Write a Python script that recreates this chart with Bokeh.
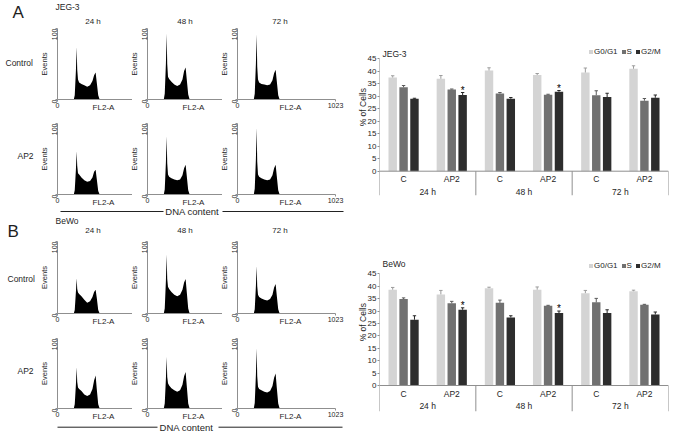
import math
from bokeh.plotting import figure
from bokeh.models import (Range1d, FactorRange, FixedTicker, Legend, LegendItem,
                          ColumnDataSource, Span, GridBox)
from bokeh.transform import dodge
from bokeh.layouts import row, column
from bokeh.core.properties import value
from bokeh.embed import file_html
from bokeh.resources import INLINE

FONT = "Liberation Sans"

# ---------------- data ----------------
TIMES = ["24 h", "48 h", "72 h"]
TREATMENTS = ["C", "AP2"]
ROW_NAMES = ["Control", "AP2"]
PHASES = ["G0/G1", "S", "G2/M"]
CELL_LINES = ["JEG-3", "BeWo"]
PANELS = ["A", "B"]

# flow cytometry histograms (FL2-A channel vs events)
CHANNEL = [170, 180, 192, 200, 206, 214, 226, 250, 280, 310, 340, 365, 382, 398, 410, 425, 440]
JEG3_CONTROL_24 = [0, 6, 40, 74, 42, 28, 24, 22, 20, 18, 20, 26, 34, 38, 24, 6, 0]
JEG3_CONTROL_48 = [0, 8, 50, 93, 50, 32, 29, 25, 21, 19, 21, 28, 40, 45, 28, 7, 0]
JEG3_CONTROL_72 = [0, 8, 50, 92, 46, 28, 24, 22, 21, 20, 21, 27, 37, 42, 26, 6, 0]
JEG3_AP2_24 = [0, 6, 35, 61, 40, 30, 28, 24, 20, 18, 19, 24, 32, 35, 22, 5, 0]
JEG3_AP2_48 = [0, 7, 45, 82, 44, 28, 25, 23, 21, 20, 21, 27, 37, 42, 26, 6, 0]
JEG3_AP2_72 = [0, 8, 50, 94, 46, 28, 25, 23, 21, 20, 21, 27, 37, 42, 26, 6, 0]
BEWO_CONTROL_24 = [0, 5, 30, 49, 34, 29, 27, 24, 19, 15, 17, 23, 30, 33, 22, 5, 0]
BEWO_CONTROL_48 = [0, 7, 45, 82, 48, 37, 34, 30, 26, 24, 26, 33, 43, 48, 30, 7, 0]
BEWO_CONTROL_72 = [0, 6, 38, 66, 38, 26, 23, 21, 19, 18, 20, 26, 36, 41, 25, 6, 0]
BEWO_AP2_24 = [0, 6, 34, 59, 38, 30, 28, 25, 20, 18, 20, 28, 40, 47, 28, 6, 0]
BEWO_AP2_48 = [0, 7, 42, 74, 45, 36, 33, 29, 26, 24, 26, 34, 46, 52, 32, 7, 0]
BEWO_AP2_72 = [0, 8, 48, 86, 46, 31, 28, 26, 24, 23, 25, 32, 44, 50, 30, 7, 0]

# cell-cycle percentages (order: 24h C, 24h AP2, 48h C, 48h AP2, 72h C, 72h AP2)
JEG3_G0G1 = [37.5, 37.0, 40.3, 38.5, 39.5, 41.0]
JEG3_G0G1_ERR = [0.7, 1.3, 1.1, 0.6, 1.8, 1.2]
JEG3_S = [33.6, 32.7, 31.1, 30.6, 30.4, 28.2]
JEG3_S_ERR = [0.7, 0.2, 0.4, 0.2, 1.8, 0.9]
JEG3_G2M = [29.0, 30.5, 29.0, 31.8, 29.7, 29.4]
JEG3_G2M_ERR = [0.2, 1.0, 0.5, 0.5, 1.5, 1.1]
BEWO_G0G1 = [38.6, 36.7, 39.2, 38.6, 37.2, 38.0]
BEWO_G0G1_ERR = [0.9, 1.6, 0.4, 1.1, 1.1, 0.4]
BEWO_S = [34.8, 33.1, 33.3, 32.1, 33.5, 32.5]
BEWO_S_ERR = [0.5, 0.8, 1.1, 0.2, 1.6, 0.2]
BEWO_G2M = [26.5, 30.5, 27.4, 29.2, 29.2, 28.6]
BEWO_G2M_ERR = [1.6, 0.8, 0.7, 0.8, 1.3, 1.0]
SIGNIFICANT_G2M = [("24 h", "AP2"), ("48 h", "AP2")]
Y_TICKS = [0, 5, 10, 15, 20, 25, 30, 35, 40, 45]

BAR_FACTORS = [(t, c) for t in TIMES for c in TREATMENTS]
BAR_COLORS = ["#d4d4d4", "#717171", "#2d2d2d"]
ERR_COLORS = ["#9c9c9c", "#5a5a5a", "#262626"]
AXIS_GRAY = "#8f8f8f"
TEXT = "#1e1e1e"

# ---------------- layout constants (pixels) ----------------
W, H = 677, 434
COL_W = [132, 90, 128]
COL_L = [57, 15, 15]
COL_R = [0, 0, 15]
COL_XEND = [783, 783, 1023]
COL_TICKS = [[0], [0], [0, 1023]]
AXIS_X = [57, 147, 237]
FL2_DX = [46, 46, 53]
HIST_ROWS = {"A": [(28, 71, 11), (13, 71, 23)], "B": [(24, 72, 12), (13, 70, 26)]}
FRAME_Y = {"A": [(28, 99), (123, 194)], "B": [(241, 313), (338, 408)]}
# bar panels: (border_top, frame_h, border_bottom, y_start, y_end, legend_y)
BAR_GEOM = {"A": (45, 150, 22, -9.73, 50.32, 139.0), "B": (42, 152, 23, -10.47, 50.76, 141.5)}
LEGEND_X = [209, 241.5, 256]


def hist_fig(counts, col, top, frame_h, bottom):
    p = figure(width=COL_W[col], height=top + frame_h + bottom,
               x_range=Range1d(0, COL_XEND[col]), y_range=Range1d(0, 100),
               output_backend="svg", toolbar_location=None,
               min_border_left=COL_L[col], min_border_right=COL_R[col],
               min_border_top=top, min_border_bottom=bottom)
    p.varea(x=CHANNEL, y1=[0] * len(CHANNEL), y2=counts, fill_color="black")
    p.grid.visible = False
    p.outline_line_color = None
    p.xaxis.ticker = FixedTicker(ticks=COL_TICKS[col])
    p.yaxis.ticker = FixedTicker(ticks=[0, 100])
    p.yaxis.major_label_orientation = math.pi / 2
    for ax in (p.xaxis[0], p.yaxis[0]):
        ax.axis_line_color = AXIS_GRAY
        ax.major_tick_line_color = AXIS_GRAY
        ax.major_tick_out = 2
        ax.major_tick_in = 0
        ax.minor_tick_out = 0
        ax.minor_tick_in = 0
        ax.major_label_standoff = 1
        ax.major_label_text_font = FONT
        ax.major_label_text_font_size = "7px"
        ax.major_label_text_color = TEXT
    return p


def hist_block(panel, rows_data):
    rows = []
    for r, data in enumerate(rows_data):
        t, f, b = HIST_ROWS[panel][r]
        rows.append(row(*[hist_fig(h, c, t, f, b) for c, h in enumerate(data)]))
    return column(*rows)


def bar_fig(panel, series, errs):
    top_border, frame_h, bottom_border, y0, y1, legend_y = BAR_GEOM[panel]
    data = dict(x=BAR_FACTORS)
    for i in range(3):
        data[f"v{i}"] = series[i]
        data[f"t{i}"] = [v + e for v, e in zip(series[i], errs[i])]
    src = ColumnDataSource(data)
    p = figure(width=W - sum(COL_W), height=top_border + frame_h + bottom_border,
               x_range=FactorRange(factors=BAR_FACTORS, group_padding=0, factor_padding=0,
                                   subgroup_padding=0, range_padding=0),
               y_range=Range1d(y0, y1), x_axis_location=None,
               output_backend="svg", toolbar_location=None,
               min_border_left=29, min_border_right=9, min_border_top=top_border,
               min_border_bottom=bottom_border)
    p.grid.visible = False
    p.outline_line_color = None
    offsets = [-0.226, 0.0, 0.226]
    rends = []
    for i in range(3):
        r = p.vbar(x=dodge("x", offsets[i], range=p.x_range), top=f"v{i}", width=0.175,
                   source=src, fill_color=BAR_COLORS[i], line_color=None)
        rends.append(r)
        p.segment(x0=dodge("x", offsets[i], range=p.x_range), x1=dodge("x", offsets[i], range=p.x_range),
                  y0=f"v{i}", y1=f"t{i}", source=src, line_color=ERR_COLORS[i], line_width=1)
        p.segment(x0=dodge("x", offsets[i] - 0.035, range=p.x_range),
                  x1=dodge("x", offsets[i] + 0.035, range=p.x_range),
                  y0=f"t{i}", y1=f"t{i}", source=src, line_color=ERR_COLORS[i], line_width=1)
    idx = [BAR_FACTORS.index(f) for f in SIGNIFICANT_G2M]
    p.text(x=dodge("x", offsets[2], range=p.x_range), y="y", text="s",
           source=ColumnDataSource(dict(x=SIGNIFICANT_G2M, y=[data["t2"][k] + 0.9 for k in idx],
                                        s=["*"] * len(idx))),
           text_align="center", text_baseline="middle", text_font=value(FONT),
           text_font_size=value("10px"), text_color="#000000")
    # value axis line (only up to the last tick) and category axis below zero
    p.segment(x0=[0], x1=[0], y0=[y0], y1=[Y_TICKS[-1]], line_color=AXIS_GRAY, line_width=1)
    p.add_layout(Span(location=0, dimension="width", line_color=AXIS_GRAY, line_width=1))
    seps = [i * len(TREATMENTS) for i in range(1, len(TIMES) + 1)]
    p.segment(x0=seps, x1=seps, y0=[0] * len(seps), y1=[y0] * len(seps),
              line_color=AXIS_GRAY, line_width=1)
    p.text(x=BAR_FACTORS, y=[-3.3] * len(BAR_FACTORS), text=[c for _, c in BAR_FACTORS],
           text_align="center", text_baseline="middle", text_font=value(FONT),
           text_font_size=value("8.5px"), text_color=TEXT)
    p.text(x=TIMES, y=[-8.2] * len(TIMES), text=TIMES,
           text_align="center", text_baseline="middle", text_font=value(FONT),
           text_font_size=value("8.5px"), text_color=TEXT)
    ax = p.yaxis[0]
    ax.ticker = FixedTicker(ticks=Y_TICKS)
    ax.axis_line_color = None
    ax.major_tick_line_color = AXIS_GRAY
    ax.major_tick_out = 2
    ax.major_tick_in = 0
    ax.minor_tick_out = 0
    ax.minor_tick_in = 0
    ax.major_label_standoff = 1
    ax.major_label_text_font = FONT
    ax.major_label_text_font_size = "8px"
    ax.major_label_text_color = TEXT
    # one legend per phase so the items sit tightly, as in the original
    for i in range(3):
        legend = Legend(items=[LegendItem(label=PHASES[i], renderers=[rends[i]])],
                        orientation="horizontal", location=(LEGEND_X[i], legend_y),
                        glyph_width=5, glyph_height=5, label_height=8, label_width=4,
                        label_standoff=1, spacing=0,
                        padding=1, margin=0, border_line_color=None, background_fill_alpha=0,
                        label_text_font=FONT, label_text_font_size="8px", label_text_color=TEXT)
        p.add_layout(legend)
    return p


# ---------------- overlay with the free-standing texts ----------------
def overlay():
    ov = figure(width=W, height=H, x_range=Range1d(0, W), y_range=Range1d(H, 0),
                x_axis_location=None, y_axis_location=None,
                output_backend="svg", toolbar_location=None,
                min_border_left=0, min_border_right=0, min_border_top=0, min_border_bottom=0,
                background_fill_alpha=0, border_fill_alpha=0)
    ov.grid.visible = False
    ov.outline_line_color = None

    def txt(x, y, t, size="8.5px", align="left", angle=0.0):
        ov.text(x=[x], y=[y], text=[t], angle=angle, text_align=align, text_baseline="middle",
                text_font=value(FONT), text_font_size=value(size), text_color=TEXT)

    letter_pos = {"A": (12, 12), "B": (7, 231)}
    cell_pos = {"A": (55, 6.7), "B": (55, 220.5)}
    time_y = {"A": 20.7, "B": 230}
    row_pos = {"A": [(5, 62.3), (17, 155)], "B": [(7, 278.3), (17, 370)]}
    dna = {"A": (211, 191.7, (60, 163), (222, 343)), "B": (426.7, 186, (57, 157), (218, 342))}
    bar_cell_y = {"A": 53.3, "B": 263.3}
    bar_label_y = {"A": 106.7, "B": 321.7}
    time_x = [92.5, 184.5, 279.5]
    for k, panel in enumerate(PANELS):
        txt(*letter_pos[panel], panel, size="17px")
        txt(*cell_pos[panel], CELL_LINES[k])
        for c, t in enumerate(TIMES):
            txt(time_x[c], time_y[panel], t, size="8px", align="center")
        for r, name in enumerate(ROW_NAMES):
            txt(*row_pos[panel][r], name)
            top, bot = FRAME_Y[panel][r]
            for c in range(3):
                txt(AXIS_X[c] - 13, (top + bot) / 2, "Events", size="7.5px", align="center",
                    angle=math.pi / 2)
                txt(AXIS_X[c] + FL2_DX[c], bot + 8, "FL2-A", size="8px", align="center")
        y, tx, l1, l2 = dna[panel]
        ov.segment(x0=[l1[0], l2[0]], x1=[l1[1], l2[1]], y0=[y, y], y1=[y, y],
                   line_color="#222222", line_width=1)
        txt(tx, y, "DNA content", size="9.5px", align="center")
        txt(382, bar_cell_y[panel], CELL_LINES[k])
        txt(362, bar_label_y[panel], "% of Cells", align="center", angle=math.pi / 2)
    return ov


histA = hist_block("A", [[JEG3_CONTROL_24, JEG3_CONTROL_48, JEG3_CONTROL_72],
                         [JEG3_AP2_24, JEG3_AP2_48, JEG3_AP2_72]])
histB = hist_block("B", [[BEWO_CONTROL_24, BEWO_CONTROL_48, BEWO_CONTROL_72],
                         [BEWO_AP2_24, BEWO_AP2_48, BEWO_AP2_72]])
barA = bar_fig("A", [JEG3_G0G1, JEG3_S, JEG3_G2M], [JEG3_G0G1_ERR, JEG3_S_ERR, JEG3_G2M_ERR])
barB = bar_fig("B", [BEWO_G0G1, BEWO_S, BEWO_G2M], [BEWO_G0G1_ERR, BEWO_S_ERR, BEWO_G2M_ERR])

main = column(row(histA, barA), row(histB, barB))
page = GridBox(children=[(main, 0, 0), (overlay(), 0, 0)])
open("out.html", "w").write(file_html(page, INLINE))
